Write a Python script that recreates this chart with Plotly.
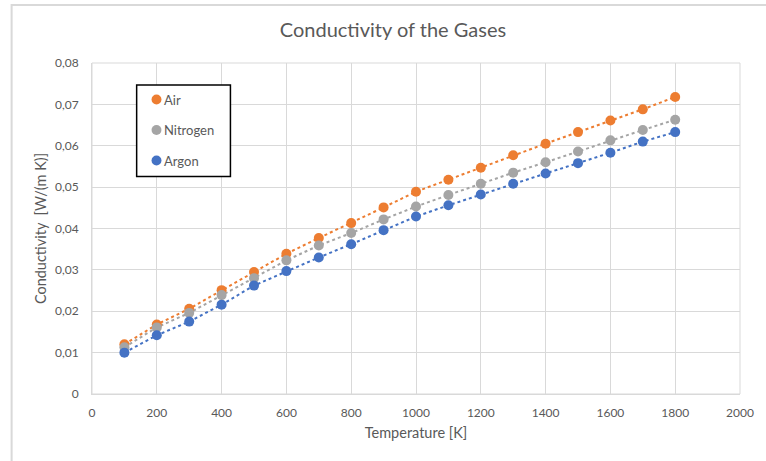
import plotly.graph_objects as go

temperature = [100, 200, 300, 400, 500, 600, 700, 800, 900, 1000,
               1100, 1200, 1300, 1400, 1500, 1600, 1700, 1800]
air = [0.0120, 0.0168, 0.0206, 0.0251, 0.0295, 0.0339, 0.0377, 0.0413, 0.0451, 0.0489,
       0.0518, 0.0547, 0.0577, 0.0605, 0.0633, 0.0661, 0.0688, 0.0718]
nitrogen = [0.0113, 0.0161, 0.0196, 0.0239, 0.0280, 0.0323, 0.0359, 0.0389, 0.0422, 0.0453,
            0.0481, 0.0508, 0.0535, 0.0560, 0.0586, 0.0613, 0.0638, 0.0663]
argon = [0.0100, 0.0142, 0.0175, 0.0216, 0.0262, 0.0297, 0.0330, 0.0362, 0.0396, 0.0429,
         0.0456, 0.0482, 0.0508, 0.0533, 0.0558, 0.0583, 0.0610, 0.0633]

series_names = ["Air", "Nitrogen", "Argon"]
series_values = [air, nitrogen, argon]
colors = ["#ED7D31", "#A5A5A5", "#4472C4"]

x_ticks = [0, 200, 400, 600, 800, 1000, 1200, 1400, 1600, 1800, 2000]
y_ticks = [0, 0.01, 0.02, 0.03, 0.04, 0.05, 0.06, 0.07, 0.08]
y_labels = ["0", "0,01", "0,02", "0,03", "0,04", "0,05", "0,06", "0,07", "0,08"]

FONT = "Lato, Open Sans, sans-serif"
TXT = "#595959"

# plot area in pixels
L, R, T, B = 92, 745, 63, 394
PW, PH = R - L, B - T


def px_x(px):
    return (px - L) / PW


def px_y(py):
    return (B - py) / PH


fig = go.Figure()
for name, vals, c in zip(series_names, series_values, colors):
    fig.add_trace(go.Scatter(x=temperature, y=vals, mode="lines",
                             line=dict(color=c, width=2, dash="dot"),
                             showlegend=False, hoverinfo="skip"))
for name, vals, c in zip(series_names, series_values, colors):
    fig.add_trace(go.Scatter(x=temperature, y=vals, mode="markers", name=name,
                             showlegend=False,
                             marker=dict(color=c, size=10, line=dict(width=0))))

fig.update_layout(
    width=766, height=461,
    margin=dict(l=L, r=766 - R, t=T, b=461 - B),
    paper_bgcolor="white", plot_bgcolor="white",
    font=dict(family=FONT, size=12, color=TXT),
    title=dict(text="Conductivity of the Gases", x=0.513, xanchor="center",
               y=1 - 30 / 461, yanchor="middle", yref="container",
               font=dict(size=20, color=TXT, family=FONT)),
    showlegend=False,
)
fig.update_xaxes(range=[0, 2000], tickvals=x_ticks, showgrid=True, gridcolor="#D9D9D9",
                 gridwidth=1, zeroline=False, showline=True, linecolor="#D9D9D9",
                 ticks="", ticklabelstandoff=8, tickfont=dict(size=12, color=TXT),
                 title=dict(text="Temperature [K]", font=dict(size=14.5, color=TXT), standoff=8))
fig.update_yaxes(range=[0, 0.08], tickvals=y_ticks, ticktext=y_labels, showgrid=True,
                 gridcolor="#D9D9D9", gridwidth=1, zeroline=False, showline=True,
                 linecolor="#D9D9D9", ticks="", ticklabelstandoff=10,
                 tickfont=dict(size=12, color=TXT),
                 title=dict(text="Conductivity  [W/(m K)]", font=dict(size=14.5, color=TXT), standoff=4))
# right and top plot-area border
fig.add_shape(type="rect", xref="paper", yref="paper", x0=0, y0=0, x1=1, y1=1,
              line=dict(color="#D9D9D9", width=1), layer="below")
# outer chart border
fig.add_shape(type="rect", xref="paper", yref="paper",
              x0=px_x(11), y0=px_y(5), x1=1.3, y1=-0.5,
              line=dict(color="#D9D9D9", width=2), layer="below")

# legend (drawn manually to match spacing)
fig.add_shape(type="rect", xref="paper", yref="paper",
              x0=px_x(137), y0=px_y(85), x1=px_x(231.5), y1=px_y(176.5),
              line=dict(color="black", width=1.5), fillcolor="white", layer="above")
legend_rows = [99.5, 130, 160.5]
for name, c, py in zip(series_names, colors, legend_rows):
    fig.add_shape(type="circle", xref="paper", yref="paper",
                  x0=px_x(152), x1=px_x(162), y0=px_y(py - 5), y1=px_y(py + 5),
                  line=dict(width=0), fillcolor=c, layer="above")
    fig.add_annotation(xref="paper", yref="paper", x=px_x(162.5), y=px_y(py),
                       xanchor="left", yanchor="middle", showarrow=False,
                       text=name, font=dict(size=13, color=TXT, family=FONT))

fig.write_html("out.html")
